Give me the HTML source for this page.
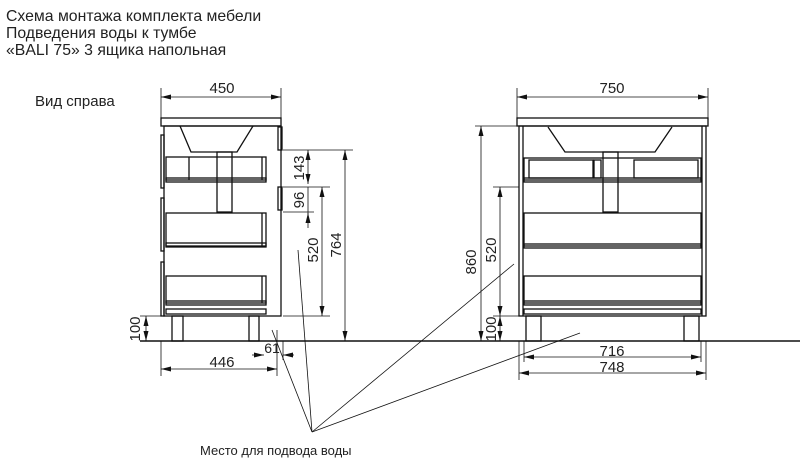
<!DOCTYPE html>
<html><head><meta charset="utf-8"><style>
body{margin:0;background:#fff;width:800px;height:468px;overflow:hidden}
svg{display:block}
text{font-family:"Liberation Sans",sans-serif;fill:#222}
</style></head><body>
<svg width="800" height="468" viewBox="0 0 800 468" xmlns="http://www.w3.org/2000/svg">
<defs>
<marker id="a" viewBox="0 0 10 10" refX="10" refY="5" markerWidth="10" markerHeight="10" markerUnits="userSpaceOnUse" orient="auto-start-reverse"><path d="M0,2.5 L10,5 L0,7.5 z" fill="#111"/></marker>
</defs>
<text x="6" y="21" font-size="15.8">Схема монтажа комплекта мебели</text>
<text x="6" y="38" font-size="15.8">Подведения воды к тумбе</text>
<text x="6" y="55" font-size="15.8">«BALI 75» 3 ящика напольная</text>
<text x="35" y="106" font-size="15">Вид справа</text>
<text x="200" y="455" font-size="13">Место для подвода воды</text>

<g stroke="#111" fill="none" stroke-width="1.3">
<line x1="140" y1="341" x2="800" y2="341" stroke-width="1.4"/>
<rect x="161" y="118" width="120" height="8"/>
<rect x="164" y="126" width="117" height="190"/>
<path d="M180,126 L191,152 L237,152 L253,126"/>
<rect x="217" y="152" width="15" height="60"/>
<rect x="166" y="157" width="100" height="23"/><rect x="166" y="178" width="100" height="4"/>
<line x1="189" y1="157" x2="189" y2="180"/><line x1="262" y1="157" x2="262" y2="180"/>
<rect x="166" y="213" width="100" height="33"/><rect x="166" y="243" width="100" height="4"/><line x1="262" y1="213" x2="262" y2="246"/>
<rect x="166" y="276" width="100" height="27"/><rect x="166" y="301" width="100" height="4"/><line x1="262" y1="276" x2="262" y2="303"/>
<rect x="166" y="309" width="100" height="5"/>
<rect x="161" y="135" width="3" height="53"/><rect x="161" y="198" width="3" height="53"/><rect x="161" y="262" width="3" height="54"/>
<rect x="278" y="127" width="4" height="23"/><rect x="278" y="187" width="4" height="23"/>
<rect x="172" y="316" width="11" height="25"/><rect x="249" y="316" width="10" height="25"/>
<g stroke-width="0.8">
<line x1="161" y1="88" x2="161" y2="118"/><line x1="281" y1="88" x2="281" y2="118"/>
<line x1="161" y1="97" x2="281" y2="97" marker-start="url(#a)" marker-end="url(#a)"/>
<line x1="283" y1="150" x2="353" y2="150"/><line x1="283" y1="187" x2="330" y2="187"/><line x1="283" y1="212" x2="314" y2="212"/><line x1="283" y1="316" x2="330" y2="316"/>
<line x1="308" y1="150" x2="308" y2="184" marker-start="url(#a)" marker-end="url(#a)"/>
<line x1="308" y1="187" x2="308" y2="215"/>
<line x1="308" y1="228" x2="308" y2="213" marker-end="url(#a)"/>
<line x1="322" y1="187" x2="322" y2="316" marker-start="url(#a)" marker-end="url(#a)"/>
<line x1="345" y1="150" x2="345" y2="341" marker-start="url(#a)" marker-end="url(#a)"/>
<line x1="140" y1="316" x2="163" y2="316"/>
<line x1="146" y1="316" x2="146" y2="341" marker-start="url(#a)" marker-end="url(#a)"/>
<line x1="161" y1="341" x2="161" y2="376"/><line x1="277" y1="330" x2="277" y2="376"/><line x1="283" y1="341" x2="283" y2="360"/>
<line x1="161" y1="369" x2="277" y2="369" marker-start="url(#a)" marker-end="url(#a)"/>
<line x1="252" y1="355" x2="264" y2="355" marker-end="url(#a)"/><line x1="294" y1="355" x2="283" y2="355" marker-end="url(#a)"/>
</g>
<rect x="517" y="118" width="191" height="8"/>
<rect x="519" y="126" width="187" height="190"/>
<line x1="523" y1="126" x2="523" y2="316"/><line x1="702" y1="126" x2="702" y2="316"/>
<path d="M548,127 L565,152 L655,152 L672,127"/>
<rect x="603" y="152" width="15" height="60"/>
<rect x="524" y="158" width="177" height="22"/><rect x="524" y="178" width="177" height="4"/>
<rect x="529" y="160" width="64" height="18"/><rect x="594" y="160" width="7" height="18"/><rect x="634" y="160" width="64" height="18"/>
<rect x="524" y="213" width="177" height="33"/><rect x="524" y="244" width="177" height="4"/>
<rect x="524" y="276" width="177" height="27"/><rect x="524" y="301" width="177" height="4"/>
<rect x="524" y="309" width="177" height="5"/>
<rect x="526" y="316" width="15" height="25"/><rect x="684" y="316" width="15" height="25"/>
<g stroke-width="0.8">
<line x1="517" y1="88" x2="517" y2="118"/><line x1="708" y1="88" x2="708" y2="118"/>
<line x1="517" y1="97" x2="708" y2="97" marker-start="url(#a)" marker-end="url(#a)"/>
<line x1="475" y1="126" x2="517" y2="126"/><line x1="493" y1="187" x2="519" y2="187"/><line x1="493" y1="316" x2="519" y2="316"/>
<line x1="481" y1="126" x2="481" y2="341" marker-start="url(#a)" marker-end="url(#a)"/>
<line x1="500" y1="187" x2="500" y2="316" marker-start="url(#a)" marker-end="url(#a)"/>
<line x1="500" y1="316" x2="500" y2="341" marker-start="url(#a)" marker-end="url(#a)"/>
<line x1="519" y1="341" x2="519" y2="380"/><line x1="706" y1="341" x2="706" y2="380"/>
<line x1="524" y1="341" x2="524" y2="362"/><line x1="701" y1="341" x2="701" y2="362"/>
<line x1="524" y1="357" x2="701" y2="357" marker-start="url(#a)" marker-end="url(#a)"/>
<line x1="519" y1="373" x2="706" y2="373" marker-start="url(#a)" marker-end="url(#a)"/>
</g>
<g stroke-width="0.8">
<line x1="312" y1="432" x2="298" y2="250"/>
<line x1="312" y1="432" x2="272" y2="330"/>
<line x1="312" y1="432" x2="514" y2="264"/>
<line x1="312" y1="432" x2="580" y2="333"/>
</g>
</g>
<g font-size="15" text-anchor="middle">
<text x="222" y="93">450</text>
<text x="612" y="93">750</text>
<text x="222" y="367">446</text>
<text x="272" y="353" font-size="14">61</text>
<text x="612" y="356">716</text>
<text x="612" y="372">748</text>
<text transform="translate(304,168) rotate(-90)">143</text>
<text transform="translate(304,200) rotate(-90)">96</text>
<text transform="translate(318,250) rotate(-90)">520</text>
<text transform="translate(341,245) rotate(-90)">764</text>
<text transform="translate(140,329) rotate(-90)">100</text>
<text transform="translate(476,262) rotate(-90)">860</text>
<text transform="translate(496,250) rotate(-90)">520</text>
<text transform="translate(496,329) rotate(-90)">100</text>
</g>
</svg>
</body></html>
